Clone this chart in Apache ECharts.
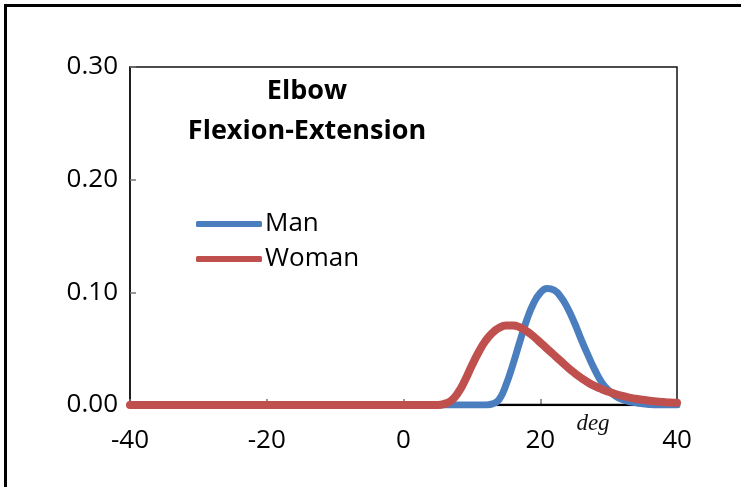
<!DOCTYPE html>
<html>
<head>
<meta charset="utf-8">
<script src="https://cdn.jsdelivr.net/npm/echarts@6/dist/echarts.min.js"></script>
<style>
  html, body { margin: 0; padding: 0; background: #fff; }
  #chart { width: 748px; height: 487px; }
</style>
</head>
<body>
<div id="chart"></div>
<script>
// Joint angle (deg) at which each density value is sampled
const angles = [-40, -30, -20, -10, 0, 5, 6, 7, 8, 9, 10, 11, 12, 13, 14, 15, 16, 17, 18, 19, 20,
  21, 22, 23, 24, 25, 26, 27, 28, 29, 30, 31, 32, 33, 34, 35, 36, 37, 38, 39, 40];

// Probability density, men
const manDensity = [0, 0, 0, 0, 0, 0, 0, 0, 0, 0, 0, 0, 0, 0.001, 0.005, 0.018, 0.036, 0.056, 0.075, 0.090, 0.0995,
  0.1035, 0.102, 0.096, 0.086, 0.073, 0.058, 0.044, 0.031, 0.020, 0.013, 0.008, 0.005, 0.003, 0.002, 0.001, 0.0005, 0, 0, 0, 0];

// Probability density, women
const womanDensity = [0, 0, 0, 0, 0, 0, 0.001, 0.004, 0.011, 0.022, 0.035, 0.047, 0.057, 0.064, 0.0685, 0.0705, 0.0705, 0.069, 0.0655, 0.061, 0.0555,
  0.050, 0.0445, 0.039, 0.0335, 0.0285, 0.024, 0.020, 0.0167, 0.014, 0.0117, 0.0097, 0.008, 0.0066, 0.0055, 0.0046, 0.0038, 0.0031, 0.0026, 0.0022, 0.002];

// Range bar along the baseline (deg)
const rangeBar = [13.6, 33.9];

const xTicks = [-40, -20, 0, 20, 40];
const yTicks = [0, 0.1, 0.2, 0.3];

const titleLines = ['Elbow', 'Flexion-Extension'];
const unitLabel = 'deg';

const FONT = '"Open Sans", "Noto Sans", sans-serif';

const pairs = (xs, ys) => xs.map((x, i) => [x, ys[i]]);

const chart = echarts.init(document.getElementById('chart'), null, { renderer: 'canvas' });

chart.setOption({
  animation: false,
  backgroundColor: '#fff',
  grid: {
    left: 130, right: 71, top: 67, bottom: 82,
    show: true, borderColor: '#111', borderWidth: 1.5, backgroundColor: 'transparent'
  },
  legend: {
    left: 191, top: 206, orient: 'vertical',
    data: ['Man', 'Woman'],
    icon: 'roundRect', itemWidth: 66, itemHeight: 6, itemGap: 9,
    textStyle: { fontFamily: FONT, fontSize: 26, color: '#000', padding: [0, 0, 0, -2] }
  },
  xAxis: {
    type: 'value', min: xTicks[0], max: xTicks[xTicks.length - 1], interval: 20,
    axisLine: { show: true, onZero: false, lineStyle: { color: '#111', width: 1.5 } },
    axisTick: { show: true, inside: true, length: 6, lineStyle: { color: '#777', width: 1.5 } },
    axisLabel: { fontFamily: FONT, fontSize: 26, color: '#000', margin: 23 },
    splitLine: { show: false }
  },
  yAxis: {
    type: 'value', min: yTicks[0], max: yTicks[yTicks.length - 1], interval: 0.1,
    axisLine: { show: true, onZero: false, lineStyle: { color: '#111', width: 1.5 } },
    axisTick: { show: true, inside: true, length: 6, lineStyle: { color: '#777', width: 1.5 } },
    axisLabel: { fontFamily: FONT, fontSize: 26, color: '#000', margin: 12, formatter: v => v.toFixed(2) },
    splitLine: { show: false }
  },
  graphic: [
    { type: 'polyline', shape: { points: [[5.5, 487], [5.5, 5.5], [741, 5.5]] },
      style: { stroke: '#000', lineWidth: 3, fill: null } },
    { type: 'text', x: 307, y: 91,
      style: { text: titleLines[0], font: 'bold 27px "Open Sans", sans-serif', fill: '#000', align: 'center', verticalAlign: 'middle' } },
    { type: 'text', x: 307, y: 131,
      style: { text: titleLines[1], font: 'bold 27px "Open Sans", sans-serif', fill: '#000', align: 'center', verticalAlign: 'middle' } },
    { type: 'text', x: 593, y: 424,
      style: { text: unitLabel, font: 'italic 23px "Liberation Serif", "DejaVu Serif", serif', fill: '#111', align: 'center', verticalAlign: 'middle' } }
  ],
  series: [
    {
      name: 'range', type: 'line', data: rangeBar.map(x => [x, 0]),
      symbol: 'none', lineStyle: { color: '#000', width: 2.5 }, z: 1, silent: true
    },
    {
      name: 'Man', type: 'line', data: pairs(angles, manDensity),
      smooth: 0.5, symbol: 'none', color: '#4a7ebf',
      lineStyle: { color: '#4a7ebf', width: 7, cap: 'round', join: 'round' }, z: 2
    },
    {
      name: 'Woman', type: 'line', data: pairs(angles, womanDensity),
      smooth: 0.5, symbol: 'none', color: '#c0504d',
      lineStyle: { color: '#c0504d', width: 8, cap: 'round', join: 'round' }, z: 3
    }
  ]
});
</script>
</body>
</html>
